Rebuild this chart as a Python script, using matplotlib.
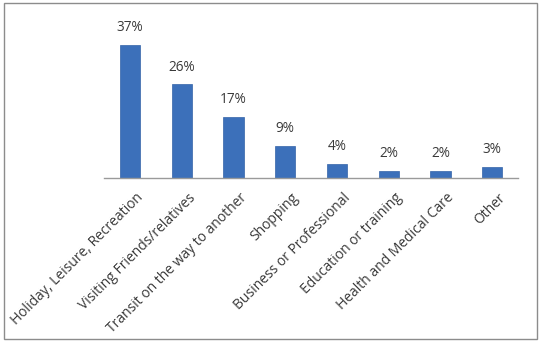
import matplotlib
matplotlib.use("Agg")
import matplotlib.pyplot as plt
import matplotlib.transforms as mtransforms
from matplotlib.patches import Rectangle

categories = ["Holiday, Leisure, Recreation", "Visiting Friends/relatives",
              "Transit on the way to another", "Shopping", "Business or Professional",
              "Education or training", "Health and Medical Care", "Other"]
values = [37, 26, 17, 9, 4, 2, 2, 3]

plt.rcParams["font.family"] = ["Open Sans", "DejaVu Sans"]

fig = plt.figure(figsize=(5.42, 3.43), dpi=100)
ax = fig.add_axes([0.192, 0.481, 0.764, 0.42])

x = range(len(values))
ax.bar(x, values, width=0.39, color="#3C70BA", edgecolor="#3363A8", linewidth=0.5, zorder=2)
for xi, v in zip(x, values):
    ax.annotate("%d%%" % v, (xi, v), xytext=(0, 7), textcoords="offset points",
                ha="center", va="bottom", fontsize=9.8, color="#3A3A3A")

ax.set_xlim(-0.5, len(values) - 0.5)
ax.set_ylim(0, 40)
ax.set_yticks([])
for s in ["top", "right", "left"]:
    ax.spines[s].set_visible(False)
ax.spines["bottom"].set_color("#9A9A9A")
ax.spines["bottom"].set_linewidth(1)

ax.set_xticks(list(x))
ax.set_xticklabels(categories, rotation=45, ha="right", va="top",
                   rotation_mode="anchor", fontsize=10, color="#3A3A3A")
ax.tick_params(axis="x", length=0, pad=9)
off = mtransforms.ScaledTranslation(6 / 100, 0, fig.dpi_scale_trans)
for lbl in ax.get_xticklabels():
    lbl.set_transform(lbl.get_transform() + off)

fig.patches.append(Rectangle((4 / 542, 4 / 343), 533 / 542, 336 / 343,
                             transform=fig.transFigure, fill=False,
                             edgecolor="#8C8C8C", linewidth=1))

fig.savefig("out.png", dpi=100)
